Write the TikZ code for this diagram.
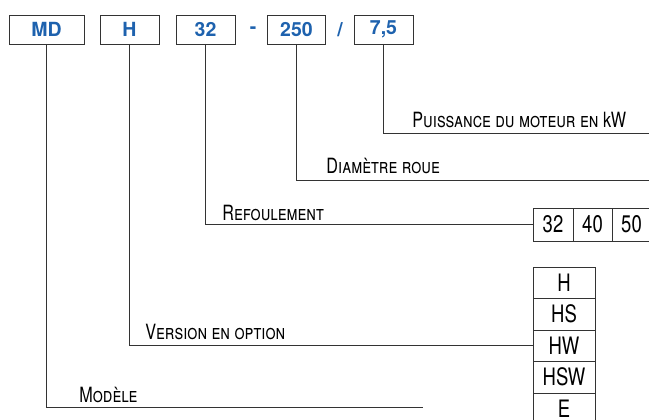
\documentclass[tikz,border=0pt]{standalone}
\usepackage{fontspec}
\setmainfont{TeX Gyre Heros}
\newfontfamily\narrowfont[FakeStretch=0.77]{TeX Gyre Heros}
\usetikzlibrary{positioning}
\definecolor{codeblue}{HTML}{1E62AE}

\begin{document}
\begin{tikzpicture}[
    x=1pt, y=-1pt,
    line width=0.9pt,
    code/.style={draw=black!80, minimum height=29pt, inner sep=0pt, outer sep=0pt, text=codeblue, font=\fontsize{19.5}{19.5}\selectfont\bfseries},
    sep/.style={inner sep=0pt, text=codeblue, font=\fontsize{19.5}{19.5}\selectfont\bfseries},
    lbl/.style={anchor=base west, inner sep=0pt, font=\narrowfont\fontsize{21}{21}\selectfont},
    opt/.style={draw=black!80, minimum width=62pt, minimum height=31.5pt, inner sep=0pt, outer sep=0pt, font=\narrowfont\fontsize{24}{24}\selectfont},
    cell/.style={draw=black!80, minimum height=33pt, inner sep=0pt, outer sep=0pt, font=\narrowfont\fontsize{24}{24}\selectfont},
    ]
    \useasboundingbox (0,0) rectangle (649,420);

    % Code boxes
    \node[code, minimum width=75pt] (md) at (46.5,29.5) {MD};
    \node[code, minimum width=59pt] (ver) at (129.5,29.5) {H};
    \node[code, minimum width=59pt] (dn) at (205.5,29.5) {32};
    \node[sep] (dash1) at (253,30) {-};
    \node[code, minimum width=58pt] (diam) at (296.5,29.5) {250};
    \node[sep] (slash1) at (340,30) {/};
    \node[code, minimum width=59pt] (pow) at (383.5,29.5) {7,5};

    % Labels
    \node[lbl] (pow-lbl) at (412,127.5) {\textsc{Puissance du moteur en} kW};
    \node[lbl] (diam-lbl) at (326,174) {\textsc{Diamètre roue}};
    \node[lbl] (dn-lbl) at (222,220) {\textsc{Refoulement}};
    \node[lbl] (ver-lbl) at (145,339) {\textsc{Version en option}};
    \node[lbl] (md-lbl) at (79,402) {\textsc{Modèle}};

    % Outlet sizes
    \node[cell, minimum width=40pt] (dn32) at (553,224.5) {32};
    \node[cell, minimum width=39pt, right=0pt of dn32] (dn40) {40};
    \node[cell, minimum width=39pt, right=0pt of dn40] (dn50) {50};

    % Versions
    \node[opt] (opt-H) at (564,282.75) {H};
    \node[opt, below=0pt of opt-H] (opt-HS) {HS};
    \node[opt, below=0pt of opt-HS] (opt-HW) {HW};
    \node[opt, below=0pt of opt-HW] (opt-HSW) {HSW};
    \node[opt, below=0pt of opt-HSW] (opt-E) {E};

    % Line ends
    \coordinate (pow-end) at (649,133);
    \coordinate (diam-end) at (649,180);
    \coordinate (md-end) at (423,407);

    % Leaders
    \draw[black!80] (pow) |- (pow-end);
    \draw[black!80] (diam) |- (diam-end);
    \draw[black!80] (dn) |- (dn32.west);
    \draw[black!80] (ver) |- (opt-HW.west);
    \draw[black!80] (md) |- (md-end);
\end{tikzpicture}
\end{document}
